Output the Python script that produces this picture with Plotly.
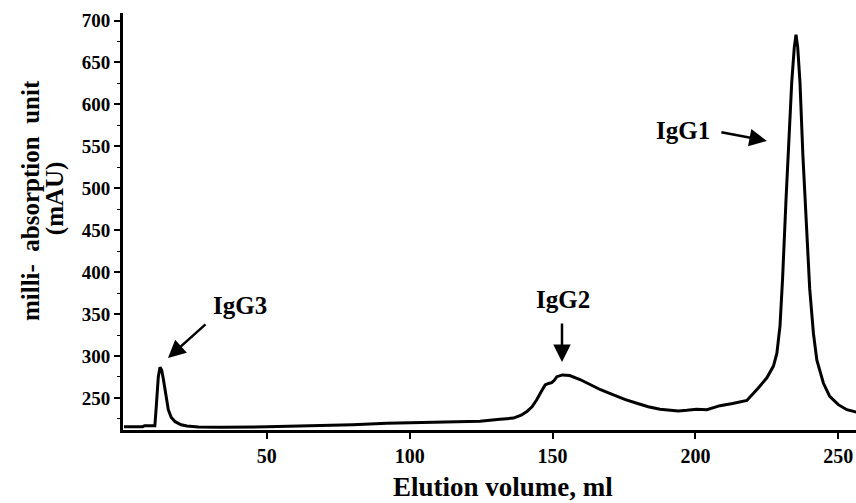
import plotly.graph_objects as go

# Elution volume (ml) and absorbance (mAU)
elution_ml = [0, 6.5, 7.2, 10.8, 11.3, 12.0, 12.6, 13.2, 13.8, 14.4, 15.5, 16.5, 17.9, 20, 22, 26,
              34, 50, 64, 80, 92, 105, 115, 124.6, 131.6, 136.3, 139, 141, 142.8, 144.4, 146,
              147.4, 148.6, 149.7, 150.6, 151.5, 153.5, 156, 159.6, 163, 166, 166.8, 171.3,
              175.5, 179.5, 183.5, 187.6, 191, 194, 197, 200.4, 204, 208.6, 213, 218, 222,
              225, 227.3, 228.5, 229.6, 230.5, 231.7, 232.8, 233.7, 234.6, 235.2, 235.8, 236.6,
              237.6, 239, 240, 241.3, 242.5, 244.8, 247, 250, 253, 256.5]
absorbance_mau = [215.8, 215.8, 217, 217, 240, 275, 286.5, 283, 272, 258, 236, 227, 221.7, 218,
                  216.6, 215.5, 215, 215.6, 216.6, 218.2, 219.8, 220.8, 221.7, 222.2, 224.6, 226,
                  229.5, 233.7, 239.5, 247.6, 257.5, 265.5, 267.3, 268.2, 271, 275.4, 277.5, 276.8,
                  272, 266.5, 261.5, 259.8, 253.6, 248, 243.7, 239.5, 236.5, 235.2, 234.5, 235.3,
                  236.5, 236, 240.8, 243.5, 247, 262, 274, 288, 303, 336, 392, 486, 570, 626, 668,
                  683, 668, 626, 540, 447, 380, 327, 295, 267.5, 252, 242, 236, 233]

x_ticks = [50, 100, 150, 200, 250]
y_ticks = [250, 300, 350, 400, 450, 500, 550, 600, 650, 700]

x_title = "Elution volume, ml"
y_title_lines = ["milli-  absorption  unit", "(mAU)"]

# peak labels and their arrows
peak_labels = ["IgG3", "IgG2", "IgG1"]
label_x = [40.6, 153.6, 195.5]
label_y = [359.7, 367.0, 568.5]
head_x = [15.4, 153.3, 225.0]
head_y = [297.7, 293.0, 556.5]
tail_dx = [39, 0, -47]
tail_dy = [-35, -40, -9]

font_family = "Liberation Serif"

fig = go.Figure()
fig.add_trace(go.Scatter(x=elution_ml, y=absorbance_mau, mode="lines",
                         line=dict(color="black", width=3), showlegend=False,
                         hoverinfo="skip"))

for lab, lx, ly in zip(peak_labels, label_x, label_y):
    fig.add_annotation(x=lx, y=ly, text="<b>%s</b>" % lab, showarrow=False,
                       font=dict(family=font_family, size=25, color="black"))

for hx, hy, dx, dy in zip(head_x, head_y, tail_dx, tail_dy):
    fig.add_annotation(x=hx, y=hy, text="", showarrow=True, ax=dx, ay=dy,
                       arrowhead=2, arrowsize=1.4, arrowwidth=2.5, arrowcolor="black",
                       standoff=0)

# axis titles
fig.add_annotation(xref="paper", yref="paper", x=0.519, y=-0.137, yanchor="middle",
                   text="<b>%s</b>" % x_title, showarrow=False,
                   font=dict(family=font_family, size=27, color="black"))
for line, xs, yp in zip(y_title_lines, [-93, -68], [0.549, 0.556]):
    fig.add_annotation(xref="paper", yref="paper", x=0, y=yp, xshift=xs,
                       xanchor="center", yanchor="middle", textangle=-90,
                       text="<b>%s</b>" % line, showarrow=False,
                       font=dict(family=font_family, size=25, color="black"))

fig.update_layout(
    width=856, height=503, autosize=False,
    margin=dict(l=123, r=0, t=13, b=73),
    plot_bgcolor="white", paper_bgcolor="white",
    font=dict(family=font_family, color="black"),
    xaxis=dict(range=[-0.35, 256.2], tickvals=x_ticks,
               ticktext=["<b>%d</b>" % v for v in x_ticks],
               showline=True, linecolor="black", linewidth=3, mirror=False,
               ticks="outside", ticklen=6, tickwidth=2, tickcolor="black",
               showgrid=False, zeroline=False, automargin=False,
               tickfont=dict(family=font_family, size=20, color="black")),
    yaxis=dict(range=[211.8, 709], tickvals=y_ticks,
               ticktext=["<b>%d</b>" % v for v in y_ticks],
               showline=True, linecolor="black", linewidth=3,
               ticks="outside", ticklen=6, tickwidth=2, tickcolor="black",
               minor=dict(dtick=25, tick0=0, ticks="outside", ticklen=3, tickwidth=1,
                          tickcolor="black"),
               showgrid=False, zeroline=False, automargin=False,
               tickfont=dict(family=font_family, size=19, color="black")),
)

fig.write_html("out.html", config={"displayModeBar": False},
               post_script="document.body.style.margin='0';document.body.style.overflow='hidden';")
